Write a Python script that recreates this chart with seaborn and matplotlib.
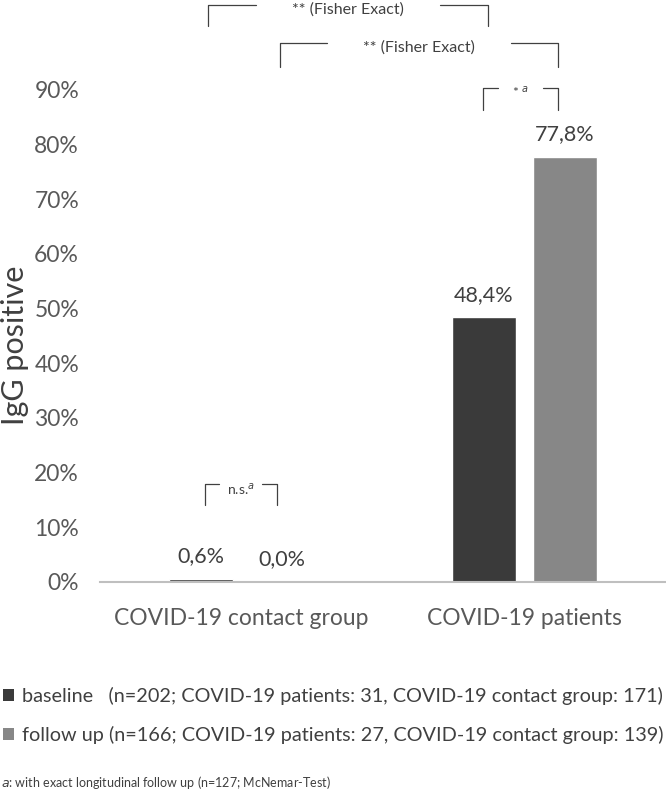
import pandas as pd
import matplotlib
matplotlib.use("Agg")
import matplotlib.pyplot as plt
import seaborn as sns
from matplotlib.patches import Patch

# Data
groups = ["COVID-19 contact group", "COVID-19 patients"]
timepoints = ["baseline", "follow up"]
baseline_vals = [0.006, 0.484]
followup_vals = [0.0, 0.778]
value_labels = [["0,6%", "48,4%"], ["0,0%", "77,8%"]]
ytick_vals = [0.0, 0.1, 0.2, 0.3, 0.4, 0.5, 0.6, 0.7, 0.8, 0.9]
ytick_labels = ["0%", "10%", "20%", "30%", "40%", "50%", "60%", "70%", "80%", "90%"]
legend_labels = [
    "baseline   (n=202; COVID-19 patients: 31, COVID-19 contact group: 171)",
    "follow up (n=166; COVID-19 patients: 27, COVID-19 contact group: 139)",
]
colors = ["#3a3a3a", "#878787"]

# significance brackets: (x_left, x_right, y_top, y_bottom, label, sup, fontsize)
brackets = [
    (-0.118, 0.871, 1.055, 1.017, "** (Fisher Exact)", "", 11.5),
    (0.136, 1.118, 0.986, 0.942, "** (Fisher Exact)", "", 11.5),
    (0.853, 1.118, 0.904, 0.863, "* ", "a", 10),
    (-0.129, 0.125, 0.179, 0.141, "n.s.", "a", 10),
]

df = pd.DataFrame({
    "group": groups * 2,
    "timepoint": [timepoints[0]] * 2 + [timepoints[1]] * 2,
    "value": baseline_vals + followup_vals,
})

sns.set_style("white")
plt.rcParams["font.family"] = ["Lato", "DejaVu Sans"]
txt_col = "#595959"

fig = plt.figure(figsize=(6.66, 7.93), dpi=100)
ax = fig.add_axes([0.150, 0.2661, 0.850, 0.7339])

sns.barplot(data=df, x="group", y="value", hue="timepoint", palette=colors,
            width=0.572, gap=0.22, ax=ax, legend=False, saturation=1)

ax.set_xlim(-0.5, 1.5)
ax.set_ylim(0, 1.0646)
ax.set_yticks(ytick_vals)
ax.set_yticklabels(ytick_labels, fontsize=16.5, color=txt_col)
ax.tick_params(axis="x", labelsize=16.5, colors=txt_col, pad=19, length=0)
ax.tick_params(axis="y", length=0, pad=15)
ax.set_xlabel("")
ax.set_ylabel("IgG positive", fontsize=22, color="#404040")
ax.yaxis.set_label_coords(-0.125, 0.407)
for s in ["top", "right", "left"]:
    ax.spines[s].set_visible(False)
ax.spines["bottom"].set_color("#bfbfbf")
ax.spines["bottom"].set_linewidth(1.5)

# value labels above bars
for container, labels in zip(ax.containers, value_labels):
    ax.bar_label(container, labels=labels, padding=9, fontsize=15.5, color="#404040")

# brackets
for xl, xr, yt, yb, label, sup, fs in brackets:
    w = xr - xl
    seg = min(0.17 * w, 0.17)
    if w < 0.4:
        seg = 0.2 * w
    kw = dict(color="#404040", lw=0.9, clip_on=False)
    ax.plot([xl, xl, xl + seg], [yb, yt, yt], **kw)
    ax.plot([xr - seg, xr, xr], [yt, yt, yb], **kw)
    xm = (xl + xr) / 2
    if sup:
        txt = label + r"$^{\it " + sup + "}$"
    else:
        txt = label
    ax.text(xm, yt - 0.008, txt, ha="center", va="center", fontsize=fs, color="#404040")

handles = [Patch(facecolor=c, edgecolor="none") for c in colors]
fig.legend(handles, legend_labels, loc="upper left", bbox_to_anchor=(0.004, 0.134),
           frameon=False, fontsize=14.3, handlelength=0.55, handleheight=0.55,
           handletextpad=0.4, labelspacing=1.08, labelcolor="#404040",
           borderaxespad=0, borderpad=0)

fig.text(0.002, 0.013, r"$\it{a}$: with exact longitudinal follow up (n=127; McNemar-Test)",
         fontsize=9, color="#404040", ha="left", va="center")

fig.savefig("out.png", dpi=100)
